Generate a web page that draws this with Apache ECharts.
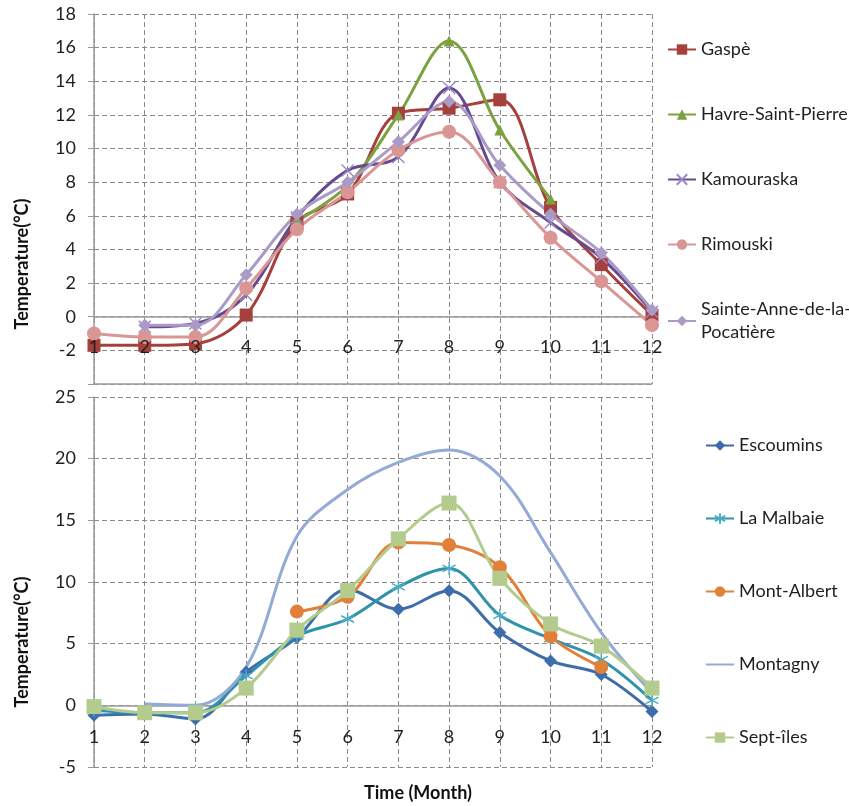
<!DOCTYPE html>
<html>
<head>
<meta charset="utf-8">
<script src="https://cdn.jsdelivr.net/npm/echarts@6/dist/echarts.min.js"></script>
<style>
  html, body { margin: 0; padding: 0; background: #fff; }
  #chart { width: 849px; height: 806px; }
</style>
</head>
<body>
<div id="chart"></div>
<script>
// Months shared by both panels
const months = ['1', '2', '3', '4', '5', '6', '7', '8', '9', '10', '11', '12'];

// Upper panel: monthly mean temperature (°C)
const gaspe      = [-1.7, -1.7, -1.6, 0.1, 5.6, 7.3, 12.1, 12.4, 12.9, 6.5, 3.1, 0.1];
const havre      = [null, null, null, null, 5.7, 7.8, 12.0, 16.4, 11.1, 7.0, null, null];
const kamouraska = [null, -0.6, -0.4, 1.3, 5.9, 8.7, 9.5, 13.6, 8.0, 5.6, 3.5, 0.3];
const rimouski   = [-1.0, -1.2, -1.2, 1.7, 5.2, 7.4, 9.9, 11.0, 8.0, 4.7, 2.1, -0.5];
const sainteAnne = [null, -0.5, -0.5, 2.5, 6.1, 8.0, 10.4, 12.8, 9.0, 6.1, 3.8, 0.4];

// Lower panel: monthly mean temperature (°C)
const escoumins   = [-0.8, -0.7, -1.1, 2.7, 5.5, 9.4, 7.8, 9.3, 5.9, 3.6, 2.5, -0.5];
const laMalbaie   = [-0.4, -0.6, -0.6, 2.4, 5.6, 7.0, 9.6, 11.1, 7.3, 5.4, 3.7, 0.4];
const montAlbert  = [null, null, null, null, 7.6, 8.8, 13.2, 13.0, 11.2, 5.6, 3.1, null];
const montagny    = [null, 0.1, 0.0, 3.1, 13.7, 17.5, 19.7, 20.7, 18.6, 12.4, 5.9, 1.0];
const septIles    = [-0.1, -0.6, -0.6, 1.4, 6.1, 9.3, 13.5, 16.4, 10.3, 6.6, 4.8, 1.4];

// Axis ranges and ticks
const topTicks = { min: -4, max: 18, interval: 2 };
const bottomTicks = { min: -5, max: 25, interval: 5 };

const FONT = 'Lato';
const GRID_COLOR = '#8a8a8a';
const AXIS_COLOR = '#9a9a9a';
const TEXT_COLOR = '#1f1f1f';
const DASH = [5, 3];

const crossPath = 'path://M0,0 L10,10 M10,0 L0,10';
const starPath = 'path://M5,0 L5,10 M0.7,2.5 L9.3,7.5 M0.7,7.5 L9.3,2.5';

function lineSeries(name, data, grid, color, symbol, size, extra) {
  const s = {
    name: name,
    type: 'line',
    data: data,
    xAxisIndex: grid === 0 ? 0 : 2,
    yAxisIndex: grid,
    smooth: 0.35,
    symbol: symbol,
    symbolSize: size,
    showSymbol: symbol !== 'none',
    lineStyle: { color: color, width: 3 },
    itemStyle: { color: color },
    emphasis: { disabled: true },
    animation: false
  };
  return Object.assign(s, extra || {});
}

// Axis drawn through y = 0 with the vertical dashed grid
function zeroAxis(grid) {
  return {
    type: 'category',
    gridIndex: grid,
    data: months,
    boundaryGap: false,
    position: 'top',
    axisLine: { show: true, onZero: true, lineStyle: { color: AXIS_COLOR, width: 1.5 } },
    axisTick: { show: false },
    axisLabel: { show: false },
    splitLine: { show: true, lineStyle: { color: GRID_COLOR, type: DASH, width: 1 } }
  };
}

// Axis along the grid bottom that carries the month labels (drawn above the lines)
function labelAxis(grid, showLine, margin) {
  return {
    type: 'category',
    gridIndex: grid,
    data: months,
    boundaryGap: false,
    position: 'bottom',
    z: 10,
    axisLine: { show: showLine, onZero: false, lineStyle: { color: AXIS_COLOR, width: 1.5 } },
    axisTick: { show: false },
    axisLabel: { inside: true, margin: margin, fontFamily: FONT, fontSize: 18, color: TEXT_COLOR },
    splitLine: { show: false }
  };
}

function yAxisCommon(grid, ticks, hideMin) {
  return {
    type: 'value',
    gridIndex: grid,
    min: ticks.min,
    max: ticks.max,
    interval: ticks.interval,
    axisLine: { show: true, lineStyle: { color: AXIS_COLOR, width: 1.5 } },
    axisTick: { show: true, length: 6, lineStyle: { color: AXIS_COLOR } },
    axisLabel: {
      margin: 18, fontFamily: FONT, fontSize: 18, color: TEXT_COLOR,
      formatter: v => (hideMin && v === ticks.min) ? '' : String(v)
    },
    splitLine: { show: true, lineStyle: { color: GRID_COLOR, type: DASH, width: 1 } }
  };
}

const legendText = { fontFamily: FONT, fontSize: 18, color: TEXT_COLOR, lineHeight: 23 };

const option = {
  backgroundColor: '#fff',
  animation: false,
  grid: [
    { left: 94, right: 197, top: 14, bottom: 422 },
    { left: 94, right: 197, top: 397, bottom: 39 }
  ],
  xAxis: [
    zeroAxis(0),
    labelAxis(0, true, 28),
    zeroAxis(1),
    labelAxis(1, false, 21)
  ],
  yAxis: [
    yAxisCommon(0, topTicks, true),
    yAxisCommon(1, bottomTicks, false)
  ],
  legend: [
    {
      orient: 'vertical', left: 662, top: 33, itemGap: 42,
      itemWidth: 28, itemHeight: 13, textStyle: legendText,
      formatter: n => n === 'Sainte-Anne-de-la-Pocatière' ? 'Sainte-Anne-de-la-\nPocatière' : n,
      data: ['Gaspè', 'Havre-Saint-Pierre', 'Kamouraska', 'Rimouski', 'Sainte-Anne-de-la-Pocatière']
    },
    {
      orient: 'vertical', left: 700, top: 429, itemGap: 50,
      itemWidth: 28, itemHeight: 13, textStyle: legendText,
      data: ['Escoumins', 'La Malbaie', 'Mont-Albert', 'Montagny', 'Sept-îles']
    }
  ],
  graphic: [
    {
      type: 'text', x: 22, y: 264, rotation: Math.PI / 2,
      style: { text: 'Temperature(°C)', font: 'bold 18px Lato', fill: '#111', align: 'center', verticalAlign: 'middle' }
    },
    {
      type: 'text', x: 22, y: 642, rotation: Math.PI / 2,
      style: { text: 'Temperature(°C)', font: 'bold 18px Lato', fill: '#111', align: 'center', verticalAlign: 'middle' }
    },
    {
      type: 'text', x: 418, y: 793,
      style: { text: 'Time (Month)', font: 'bold 18px Lato', fill: '#111', align: 'center', verticalAlign: 'middle' }
    }
  ],
  series: [
    lineSeries('Gaspè', gaspe, 0, '#A5403D', 'rect', 13),
    lineSeries('Havre-Saint-Pierre', havre, 0, '#7BA23F', 'triangle', 11),
    lineSeries('Kamouraska', kamouraska, 0, '#66498F', crossPath, 12,
      { itemStyle: { color: '#9a88c4', borderColor: '#9a88c4', borderWidth: 1.4 } }),
    lineSeries('Rimouski', rimouski, 0, '#D99694', 'circle', 14),
    lineSeries('Sainte-Anne-de-la-Pocatière', sainteAnne, 0, '#A99BC6', 'diamond', 13),

    lineSeries('Escoumins', escoumins, 1, '#3D6DAA', 'diamond', 13),
    lineSeries('La Malbaie', laMalbaie, 1, '#2F93AA', starPath, 13,
      { itemStyle: { color: '#4BACC6', borderColor: '#4BACC6', borderWidth: 1.4 } }),
    lineSeries('Mont-Albert', montAlbert, 1, '#E2803A', 'circle', 14),
    lineSeries('Montagny', montagny, 1, '#93AAD6', 'none', 0,
      { itemStyle: { color: '#93AAD6', opacity: 0 } }),
    lineSeries('Sept-îles', septIles, 1, '#B3CC8E', 'rect', 15)
  ]
};

const chart = echarts.init(document.getElementById('chart'), null, { renderer: 'canvas' });
chart.setOption(option);
</script>
</body>
</html>
